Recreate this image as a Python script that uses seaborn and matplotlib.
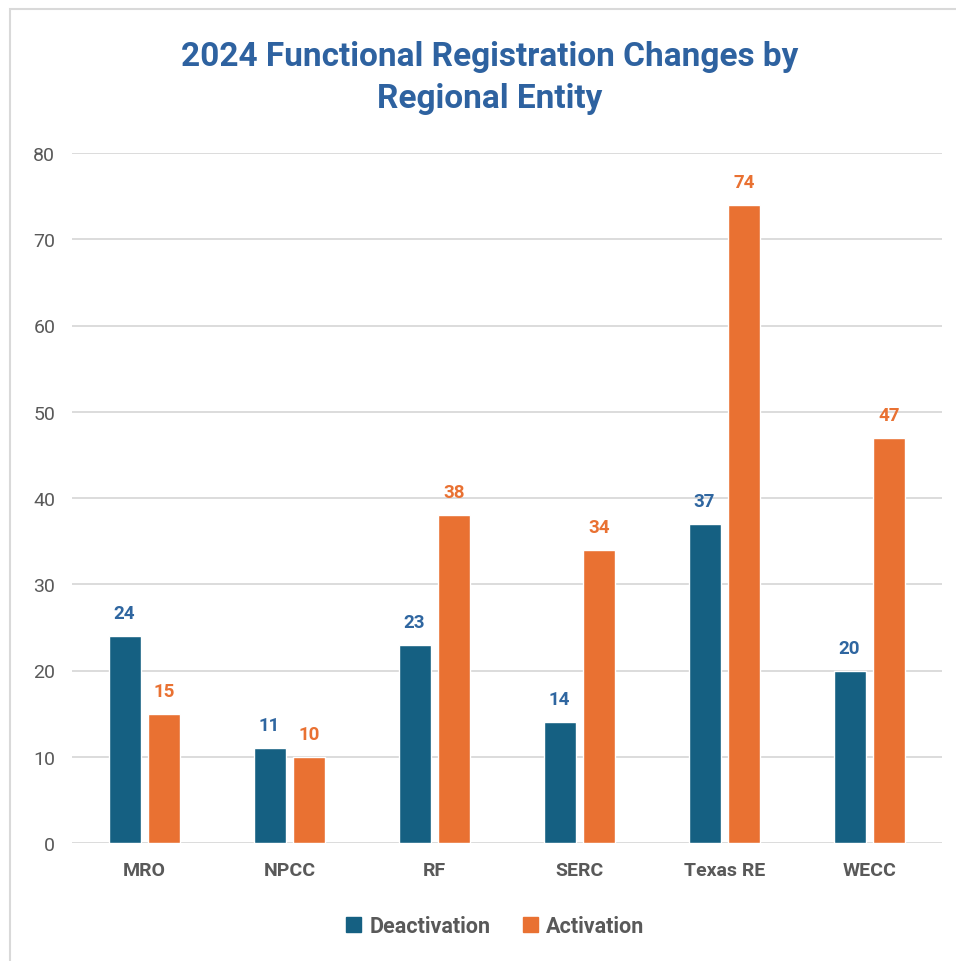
import pandas as pd
import matplotlib.pyplot as plt
import seaborn as sns
from matplotlib.patches import Rectangle

regions = ["MRO", "NPCC", "RF", "SERC", "Texas RE", "WECC"]
deactivation = [24, 11, 23, 14, 37, 20]
activation = [15, 10, 38, 34, 74, 47]
series = ["Deactivation", "Activation"]
colors = {"Deactivation": "#156082", "Activation": "#E97132"}
label_colors = {"Deactivation": "#2F66A0", "Activation": "#E97132"}

df = pd.DataFrame({
    "Region": regions * 2,
    "Count": deactivation + activation,
    "Type": [series[0]] * len(regions) + [series[1]] * len(regions),
})

sns.set_style("white")
plt.rcParams["font.family"] = ["Roboto", "DejaVu Sans"]

fig = plt.figure(figsize=(9.56, 9.62), dpi=100)
ax = fig.add_axes([72 / 956, 1 - 844 / 962, 870 / 956, 690 / 962])

sns.barplot(data=df, x="Region", y="Count", hue="Type", palette=colors,
            width=0.55, gap=0.2, ax=ax, legend=False, saturation=1)

for cont, name in zip(ax.containers, series):
    ax.bar_label(cont, padding=10, color=label_colors[name],
                 fontsize=13.5, fontweight="bold")

ax.set_ylim(0, 80)
ax.set_xlim(-0.5, 5.5)
ax.set_yticks(range(0, 81, 10))
ax.yaxis.grid(True, color="#D9D9D9", linewidth=1.3)
ax.set_axisbelow(True)
for s in ax.spines.values():
    s.set_visible(False)
ax.tick_params(axis="y", length=0, labelsize=14, labelcolor="#595959", pad=12)
ax.tick_params(axis="x", length=0, labelsize=14, labelcolor="#595959", pad=13)
for t in ax.get_xticklabels():
    t.set_fontweight("bold")
ax.set_xlabel("")
ax.set_ylabel("")

fig.text(490 / 956, 1 - 78 / 962,
         "2024 Functional Registration Changes by\nRegional Entity",
         ha="center", va="center", fontsize=24, fontweight="bold",
         color="#2E62A0", linespacing=1.4)

handles = [Rectangle((0, 0), 1, 1, color=colors[s]) for s in series]
leg = fig.legend(handles, series, loc="center", ncol=2,
                 bbox_to_anchor=(495 / 956, 1 - 927 / 962), frameon=False,
                 handlelength=0.7, handleheight=0.7, handletextpad=0.4,
                 columnspacing=1.5, prop={"size": 15.5, "weight": "bold"})
for t in leg.get_texts():
    t.set_color("#595959")

fig.add_artist(Rectangle((10 / 956, -0.05), 1.2, 1.05 - 10 / 962,
                         transform=fig.transFigure, fill=False,
                         edgecolor="#D9D9D9", linewidth=1.5))

fig.savefig("out.png", dpi=100)
